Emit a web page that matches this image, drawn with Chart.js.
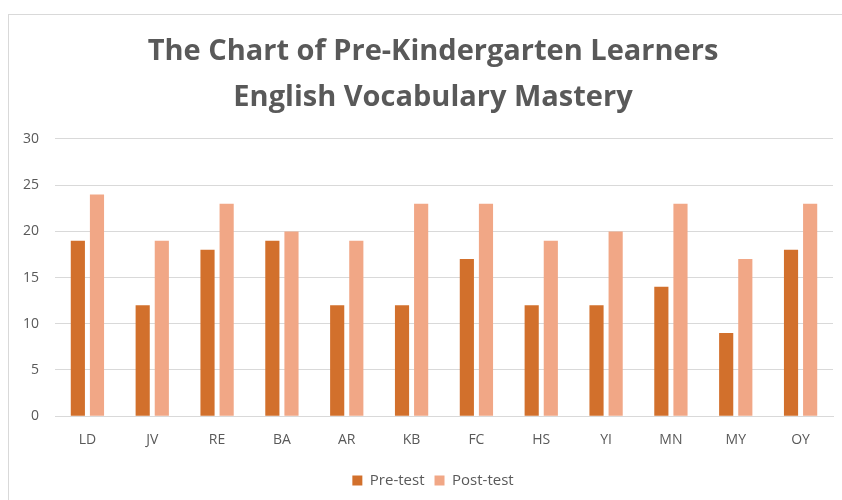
<!DOCTYPE html>
<html>
<head>
<meta charset="utf-8">
<script src="https://cdn.jsdelivr.net/npm/chart.js@4/dist/chart.umd.min.js"></script>
<style>
  body { margin: 0; background: #fff; overflow: hidden; }
  #frame { position: absolute; left: 8px; top: 14px; width: 900px; height: 600px; border: 1px solid #d9d9d9; }
  #wrap { position: absolute; left: 0; top: 0; width: 868px; height: 500px; }
</style>
</head>
<body>
<div id="frame"></div>
<div id="wrap"><canvas id="bar-chart"></canvas></div>
<script>
const learners = ["LD", "JV", "RE", "BA", "AR", "KB", "FC", "HS", "YI", "MN", "MY", "OY"];
const preTest = [19, 12, 18, 19, 12, 12, 17, 12, 12, 14, 9, 18];
const postTest = [24, 19, 23, 20, 19, 23, 23, 19, 20, 23, 17, 23];

new Chart(document.getElementById("bar-chart"), {
    type: 'bar',
    data: {
        labels: learners,
        datasets: [{
            label: "Pre-test",
            data: preTest,
            backgroundColor: "#d2702c",
            barPercentage: 0.74,
            categoryPercentage: 0.59
        }, {
            label: "Post-test",
            data: postTest,
            backgroundColor: "#f1a786",
            barPercentage: 0.74,
            categoryPercentage: 0.59
        }]
    },
    options: {
        responsive: true,
        maintainAspectRatio: false,
        animation: false,
        layout: {
            padding: { left: 10, right: 12, top: 29, bottom: 2 }
        },
        plugins: {
            title: {
                display: true,
                text: ["The Chart of Pre-Kindergarten Learners", "English Vocabulary Mastery"],
                color: "#595959",
                font: { family: "'Open Sans'", size: 29, weight: 'bold', lineHeight: 1.586 },
                padding: { top: 0, bottom: 18 }
            },
            legend: {
                position: 'bottom',
                labels: {
                    color: "#595959",
                    font: { family: "'Open Sans'", size: 15 },
                    boxWidth: 10,
                    boxHeight: 10,
                    padding: 10
                }
            },
            tooltip: { enabled: false }
        },
        scales: {
            x: {
                grid: { display: false, drawTicks: false },
                border: { color: "#d9d9d9" },
                ticks: {
                    color: "#595959",
                    font: { family: "'Open Sans'", size: 14 },
                    padding: 15
                }
            },
            y: {
                min: 0,
                max: 30,
                afterFit: function (axis) { axis.width = 45; },
                grid: { color: "#d9d9d9", drawTicks: false },
                border: { display: false },
                ticks: {
                    stepSize: 5,
                    color: "#595959",
                    font: { family: "'Open Sans'", size: 14 },
                    padding: 16
                }
            },
            // empty right gutter, keeps title and legend centred like the original
            gutter: {
                position: 'right',
                afterFit: function (axis) { axis.width = 23; },
                grid: { display: false },
                border: { display: false },
                ticks: { display: false }
            }
        }
    }
});
</script>
</body>
</html>
